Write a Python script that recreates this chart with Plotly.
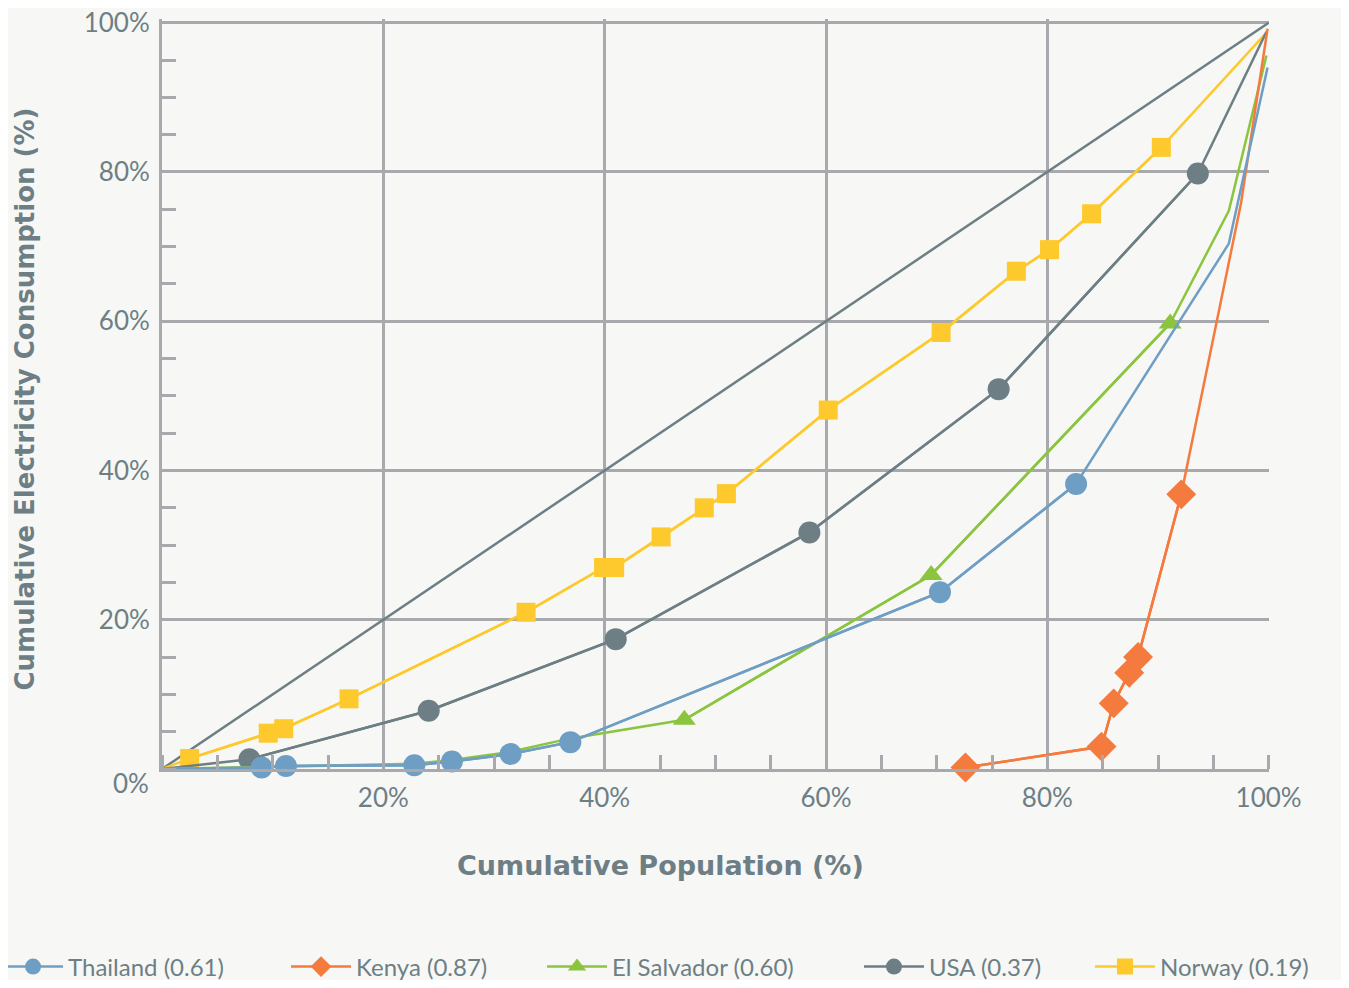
import plotly.graph_objects as go

# ---------------- data (cumulative %) ----------------
equality_x = [0, 100]
equality_y = [0, 100]

# Thailand (Gini 0.61)
thailand_head_x = [0]
thailand_head_y = [0]
thailand_x = [9.0, 11.2, 22.8, 26.2, 31.5, 36.9, 70.3, 82.6]
thailand_y = [0.2, 0.4, 0.5, 1.0, 2.0, 3.6, 23.7, 38.2]
thailand_tail_x = [96.4, 99.9]
thailand_tail_y = [70.4, 94.0]

# Kenya (Gini 0.87)
kenya_head_x = []
kenya_head_y = []
kenya_x = [72.6, 84.9, 86.0, 87.4, 88.2, 92.1]
kenya_y = [0.2, 3.0, 8.8, 12.9, 15.0, 36.8]
kenya_tail_x = [97.5, 99.9]
kenya_tail_y = [75.8, 99.2]

# El Salvador (Gini 0.60)
elsalvador_head_x = [0, 22.8, 26.2, 31.5, 36.9]
elsalvador_head_y = [0, 0.7, 1.2, 2.3, 4.1]
elsalvador_x = [47.2, 69.5, 91.1]
elsalvador_y = [6.6, 26.0, 59.7]
elsalvador_tail_x = [96.4, 99.8]
elsalvador_tail_y = [74.8, 95.6]

# USA (Gini 0.37)
usa_head_x = [0]
usa_head_y = [0]
usa_x = [7.9, 24.1, 41.0, 58.5, 75.6, 93.6]
usa_y = [1.3, 7.8, 17.4, 31.7, 50.9, 79.8]
usa_tail_x = [99.8]
usa_tail_y = [98.8]

# Norway (Gini 0.19)
norway_head_x = [0]
norway_head_y = [0]
norway_x = [2.5, 9.6, 11.0, 16.9, 32.9, 39.9, 40.9, 45.1, 49.0, 51.0,
            60.2, 70.4, 77.2, 80.2, 84.0, 90.3]
norway_y = [1.4, 4.8, 5.4, 9.4, 21.0, 27.0, 27.0, 31.1, 35.0, 36.9,
            48.1, 58.5, 66.7, 69.6, 74.4, 83.3]
norway_tail_x = [99.7]
norway_tail_y = [98.5]

x_ticks = [20, 40, 60, 80, 100]
y_ticks = [0, 20, 40, 60, 80, 100]

x_title = "Cumulative Population (%)"
y_title = "Cumulative Electricity Consumption (%)"

# ---------------- styles ----------------
BG = "#f7f7f5"
GRID = "#a8a9ac"
TEXT = "#6d7f85"
FONT = "Lato"
TITLE_FONT = "DejaVu Sans"

series = [
    # name, head, marked, tail, color, symbol, size, legend rank, legend width, legend id
    ("Norway (0.19)", (norway_head_x, norway_head_y), (norway_x, norway_y),
     (norway_tail_x, norway_tail_y), "#fdc92c", "square", 19, 5, 160, "legend2"),
    ("USA (0.37)", (usa_head_x, usa_head_y), (usa_x, usa_y),
     (usa_tail_x, usa_tail_y), "#6d7f84", "circle", 22, 4, 156, "legend2"),
    ("El Salvador (0.60)", (elsalvador_head_x, elsalvador_head_y), (elsalvador_x, elsalvador_y),
     (elsalvador_tail_x, elsalvador_tail_y), "#8bc53f", "triangle-up", 20, 3, 195, "legend"),
    ("Kenya (0.87)", (kenya_head_x, kenya_head_y), (kenya_x, kenya_y),
     (kenya_tail_x, kenya_tail_y), "#f47a3e", "diamond", 23, 2, 181, "legend"),
    ("Thailand (0.61)", (thailand_head_x, thailand_head_y), (thailand_x, thailand_y),
     (thailand_tail_x, thailand_tail_y), "#6f9ec4", "circle", 22, 1, 213, "legend"),
]

fig = go.Figure()

# line of equality
fig.add_trace(go.Scatter(x=equality_x, y=equality_y, mode="lines",
                         line=dict(color="#6d7f84", width=2.5),
                         showlegend=False, hoverinfo="skip", cliponaxis=False))

for name, head, marked, tail, color, symbol, size, rank, lw, leg in series:
    path_x = list(head[0]) + list(marked[0]) + list(tail[0])
    path_y = list(head[1]) + list(marked[1]) + list(tail[1])
    fig.add_trace(go.Scatter(x=path_x, y=path_y, mode="lines",
                             line=dict(color=color, width=2.5),
                             showlegend=False, hoverinfo="skip", cliponaxis=False,
                             legendgroup=name, legend=leg))
    fig.add_trace(go.Scatter(x=marked[0], y=marked[1], mode="lines+markers", name=name,
                             line=dict(color=color, width=2.5),
                             marker=dict(symbol=symbol, size=size, color=color, line=dict(width=0)),
                             legendgroup=name, legendrank=rank, legendwidth=lw, legend=leg,
                             cliponaxis=False))

axis_common = dict(
    showgrid=True, gridcolor=GRID, gridwidth=2.5,
    showline=True, linecolor=GRID, linewidth=3,
    zeroline=False,
    ticks="",
    tickfont=dict(family=FONT, size=26, color=TEXT),
    ticklabeloverflow="allow",
    minor=dict(dtick=5, ticks="inside", ticklen=14, tickwidth=2.5,
               tickcolor=GRID, showgrid=False),
    fixedrange=True,
)

fig.update_xaxes(**axis_common, range=[0, 100.03], tickmode="array", tickvals=x_ticks,
                 ticktext=[f"{v}%" for v in x_ticks], ticklabelstandoff=4)
fig.update_yaxes(**axis_common, range=[0, 100.5], tickmode="array", tickvals=y_ticks,
                 ticktext=["" if v == 0 else f"{v}%" for v in y_ticks], ticklabelstandoff=4)

legend_common = dict(orientation="h", xanchor="left", y=-0.264, yanchor="middle",
                     font=dict(family=FONT, size=24, color=TEXT),
                     itemwidth=60, bgcolor="rgba(0,0,0,0)", traceorder="normal")

fig.update_layout(
    width=1333, height=972,
    margin=dict(l=154, r=72, t=11, b=211, autoexpand=False),
    paper_bgcolor=BG, plot_bgcolor=BG,
    showlegend=True,
    legend=dict(**legend_common, x=-0.1481),
    legend2=dict(**legend_common, x=0.6296),
    annotations=[
        dict(text=f"{y_ticks[0]}%", xref="paper", yref="paper", x=0, y=0,
             xanchor="right", yanchor="middle", xshift=-11, yshift=-14, showarrow=False,
             font=dict(family=FONT, size=26, color=TEXT)),
        dict(text=x_title, xref="paper", yref="paper", x=0.4503, y=0,
             xanchor="center", yanchor="middle", yshift=-96, showarrow=False,
             font=dict(family=TITLE_FONT, size=27, color=TEXT, weight="bold")),
        dict(text=y_title, xref="paper", yref="paper", x=0, y=0.4926,
             xanchor="center", yanchor="middle", xshift=-137, textangle=-90, showarrow=False,
             font=dict(family=TITLE_FONT, size=26, color=TEXT, weight="bold")),
    ],
)

fig.write_html("out.html")
